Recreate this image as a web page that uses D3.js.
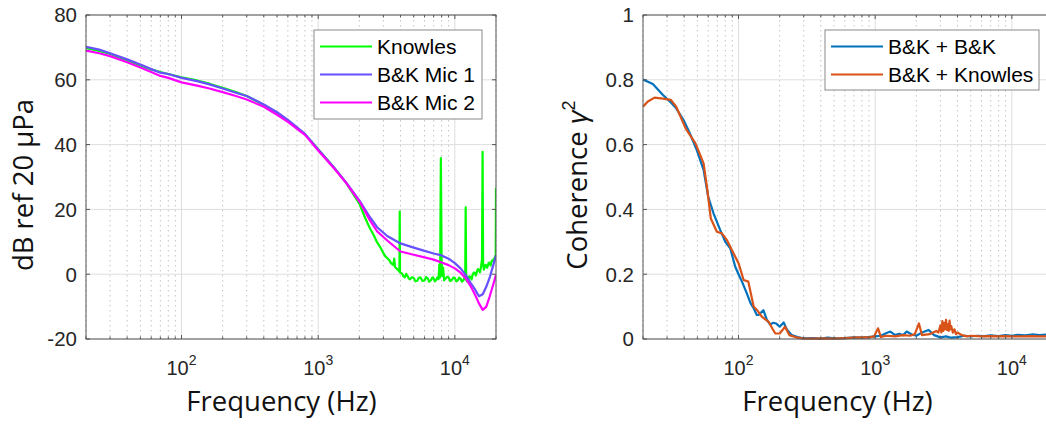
<!DOCTYPE html>
<html><head><meta charset="utf-8">
<script src="https://cdn.jsdelivr.net/npm/d3@7"></script>
<style>
html,body{margin:0;padding:0;background:#fff;}
svg{display:block;}
</style></head>
<body>
<svg id="chart" width="1046" height="425"></svg>
<script>
// ---------------- DATA ----------------
const micFreq = [20,25,30,40,50,60,70,80,100,130,160,200,250,300,400,500,600,800,1000,1300,1600,2000,2400,2700,3200,4000,5000,6000,7000,8000,9000,10000,11000,12000,13000,14000,15000,16000,17000,18000,19000,20000];
const mic1Db = [70.2,69.3,68.2,66.3,64.7,63.3,62.2,61.8,60.6,59.6,58.6,57.3,56.0,55.0,52.4,50.0,47.6,43.3,38.5,33.0,28.3,22.8,17.5,14.5,11.8,9.5,8.2,7.2,6.4,5.8,4.8,3.4,1.8,-0.2,-2.6,-4.6,-6.8,-6.2,-3.8,-1.0,2.5,5.8];
const mic2Db = [69.0,68.2,67.3,65.4,63.8,62.4,61.2,60.6,59.2,58.2,57.3,56.2,55.0,53.9,51.7,49.2,47.0,43.0,38.2,32.8,28.2,22.5,16.5,13.2,10.4,7.0,6.0,5.2,4.5,3.6,2.8,1.8,0.5,-1.3,-3.6,-6.2,-9.0,-11.0,-10.0,-6.8,-3.5,-0.2];
const knowFreq = [20,25,30,40,50,60,70,80,100,130,160,200,250,300,400,500,600,800,1000,1300,1600,2000,2200,2400,2550,2700,2850,3000,3100,3200,3300,3400,3550,3600,3650,3800,3930,3950,3970,4100,4200,4300,4400,4500,4600,4700,4850,5000,5150,5300,5450,5600,5800,6000,6150,6300,6500,6700,6850,7000,7150,7300,7450,7600,7700,7800,7900,8000,8100,8200,8350,8500,8750,9000,9250,9500,9750,10000,10250,10500,10750,11000,11250,11500,11700,11900,12000,12100,12300,12500,12750,13000,13250,13500,13750,14000,14250,14500,14750,15000,15250,15500,15800,15950,16100,16300,16500,16750,17000,17250,17500,17750,18000,18250,18500,18750,19000,19250,19500,19750,19900,20000];
const knowDb = [69.8,68.9,68.0,66.0,64.4,63.2,62.4,61.8,60.8,59.8,58.8,57.5,56.2,55.0,52.2,49.8,47.4,43.2,38.6,33.0,28.2,21.8,17.5,14.0,12.0,9.8,8.3,6.5,5.5,5.0,4.4,3.5,2.8,4.8,2.2,1.5,0.8,19.3,0.5,0.2,-0.6,-1.0,0.1,-0.5,-1.3,-1.6,-0.9,-1.2,-2.2,-2.0,-1.1,-1.0,-2.1,-1.9,-0.9,-1.2,-2.3,-1.8,-1.0,-1.3,-2.2,-1.8,-1.0,-1.5,3.0,-1.0,35.8,4.0,-0.5,2.0,-1.9,-1.5,-0.8,-1.0,-2.1,-1.8,-1.0,-1.2,-2.2,-1.9,-1.1,-1.4,-2.3,-2.0,-1.2,-1.6,20.6,-1.5,-2.3,-1.8,-0.7,-0.8,-1.6,-0.2,0.5,0.4,-0.4,0.8,1.6,1.2,0.6,2.0,4.5,37.8,3.0,1.4,2.0,2.9,2.6,2.0,3.0,3.6,3.2,2.7,3.8,4.2,4.5,3.9,5.0,5.5,6.0,26.7];

const bbFreq = [20,23.6,28,32,35,39.6,44,49.5,55.5,60,65.6,73.5,80,87,94.6,100,106,115,122,129,136,140,152,161,170,180,188,200,214,225,245,270,300,350,400,450,500,600,700,800,900,1000,1100,1200,1290,1400,1500,1600,1700,1850,2000,2200,2460,2700,3000,3300,3600,4000,4500,5000,5600,6300,7000,8000,9000,10000,11000,12500,14000,16000,18000,20000];
const bbCoh = [0.801,0.787,0.753,0.73,0.712,0.676,0.635,0.583,0.522,0.439,0.388,0.336,0.30,0.28,0.223,0.20,0.177,0.141,0.112,0.095,0.074,0.074,0.089,0.06,0.045,0.05,0.048,0.038,0.051,0.03,0.012,0.006,0.002,0.003,0.001,0.004,0.002,0.003,0.005,0.004,0.006,0.008,0.01,0.018,0.023,0.012,0.016,0.012,0.023,0.014,0.01,0.02,0.028,0.012,0.005,0.008,0.004,0.006,0.01,0.008,0.01,0.009,0.011,0.009,0.012,0.01,0.013,0.011,0.014,0.012,0.014,0.012];
const bkFreq = [20,21.7,24.3,28,32,35,41,48.4,55.5,58.7,62.7,69.4,75.5,82,92,100,109,118,129,138,148,166,178,186,200,212,219,235,260,290,350,400,500,600,700,800,900,980,1050,1100,1200,1400,1600,1800,1950,2090,2200,2500,2800,2900,3000,3050,3100,3150,3200,3250,3300,3350,3400,3450,3500,3550,3600,3700,3800,3900,4000,4300,4700,5000,6000,7000,8000,9000,10000,12000,14000,16000,18000,20000];
const bkCoh = [0.717,0.733,0.745,0.742,0.738,0.717,0.65,0.604,0.542,0.47,0.372,0.331,0.326,0.306,0.264,0.234,0.182,0.177,0.10,0.087,0.069,0.053,0.03,0.017,0.017,0.03,0.038,0.012,0.006,0.002,0.001,0.002,0.001,0.003,0.004,0.005,0.005,0.008,0.033,0.006,0.01,0.008,0.012,0.01,0.015,0.048,0.012,0.015,0.025,0.02,0.042,0.02,0.055,0.025,0.05,0.03,0.059,0.028,0.045,0.025,0.057,0.03,0.04,0.02,0.03,0.015,0.02,0.012,0.008,0.01,0.008,0.009,0.008,0.009,0.008,0.008,0.009,0.008,0.008,0.008];

const leftYTicks = [-20,0,20,40,60,80];
const rightYTicks = [0,0.2,0.4,0.6,0.8,1];
const rightYLabels = ["0","0.2","0.4","0.6","0.8","1"];
const xDecades = [100,1000,10000];
const xDecadeExp = ["2","3","4"];
const leftLegend = ["Knowles","B&K Mic 1","B&K Mic 2"];
const rightLegend = ["B&K + B&K","B&K + Knowles"];

// ---------------- DRAW ----------------
const svg = d3.select("#chart");
const TICKFONT = "'Liberation Sans', Arial, sans-serif";
const TITLEFONT = "'Open Sans', Lato, sans-serif";
const axisColor = "#262626";

const minorFreqs = [];
for (let d = 10; d <= 10000; d *= 10) for (let m = 2; m <= 9; m++) { const f = m*d; if (f >= 20 && f <= 20000) minorFreqs.push(f); }

function panel(opts) {
  const g = svg.append("g");
  const x = d3.scaleLog().domain([20,20000]).range([opts.x0, opts.x1]);
  const y = d3.scaleLinear().domain(opts.yDomain).range([339,15]);
  const [xa, xb] = x.range(), [yb, ya] = y.range();
  g.selectAll(".mg").data(minorFreqs).join("line")
    .attr("x1", d=>x(d)).attr("x2", d=>x(d)).attr("y1", ya).attr("y2", yb)
    .attr("stroke", "#c4c4c4").attr("stroke-width", 1).attr("stroke-dasharray", "1.5,3.5");
  g.selectAll(".Mg").data(xDecades).join("line")
    .attr("x1", d=>x(d)).attr("x2", d=>x(d)).attr("y1", ya).attr("y2", yb)
    .attr("stroke", "#dedede").attr("stroke-width", 1);
  g.selectAll(".Mgy").data(opts.yTicks).join("line")
    .attr("x1", xa).attr("x2", xb).attr("y1", d=>y(d)).attr("y2", d=>y(d))
    .attr("stroke", "#dedede").attr("stroke-width", 1);
  const clipId = "clip" + opts.id;
  svg.append("clipPath").attr("id", clipId).append("rect")
    .attr("x", xa).attr("y", ya - 2).attr("width", xb - xa).attr("height", yb - ya + 4);
  const lg = g.append("g").attr("clip-path", `url(#${clipId})`);
  opts.series.forEach(s => {
    const line = d3.line().x((d,i)=>x(s.f[i])).y(d=>y(d));
    lg.append("path").datum(s.v).attr("d", line).attr("fill","none")
      .attr("stroke", s.color).attr("stroke-width", 2.2).attr("stroke-linejoin","round");
  });
  g.append("rect").attr("x", xa).attr("y", ya).attr("width", xb - xa).attr("height", yb - ya)
    .attr("fill","none").attr("stroke", "#555").attr("stroke-width", 1);
  g.selectAll(".yt").data(opts.yTicks).join("line")
    .attr("x1", xa).attr("x2", xa + 4).attr("y1", d=>y(d)).attr("y2", d=>y(d)).attr("stroke","#555");
  g.selectAll(".yt2").data(opts.yTicks).join("line")
    .attr("x1", xb).attr("x2", xb - 4).attr("y1", d=>y(d)).attr("y2", d=>y(d)).attr("stroke","#555");
  g.selectAll(".xt").data(xDecades).join("line")
    .attr("x1", d=>x(d)).attr("x2", d=>x(d)).attr("y1", yb).attr("y2", yb - 4).attr("stroke","#555");
  g.selectAll(".xtt").data(xDecades).join("line")
    .attr("x1", d=>x(d)).attr("x2", d=>x(d)).attr("y1", ya).attr("y2", ya + 4).attr("stroke","#555");
  g.selectAll(".xm").data(minorFreqs).join("line")
    .attr("x1", d=>x(d)).attr("x2", d=>x(d)).attr("y1", yb).attr("y2", yb - 2.5).attr("stroke","#555");
  g.selectAll(".xmt").data(minorFreqs).join("line")
    .attr("x1", d=>x(d)).attr("x2", d=>x(d)).attr("y1", ya).attr("y2", ya + 2.5).attr("stroke","#555");
  g.selectAll(".yl").data(opts.yTicks).join("text")
    .attr("x", xa - 9).attr("y", d=>y(d)).attr("dy", "0.36em")
    .attr("text-anchor","end").attr("font-family", TICKFONT).attr("font-size", 20.5)
    .attr("fill", axisColor).text((d,i)=>opts.yLabels[i]);
  const xl = g.selectAll(".xl").data(xDecades).join("text")
    .attr("x", d=>x(d)).attr("y", 375).attr("text-anchor","middle")
    .attr("font-family", TICKFONT).attr("font-size", 20).attr("fill", axisColor);
  xl.append("tspan").text("10");
  xl.append("tspan").attr("dy", -10).attr("font-size", 14).text((d,i)=>xDecadeExp[i]);
  g.append("text").attr("x", opts.xTitleX).attr("y", 411).attr("text-anchor","middle")
    .attr("font-family", TITLEFONT).attr("font-size", 27.5).attr("fill", "#111").text("Frequency (Hz)");
  const yt = g.append("text").attr("transform", `translate(${opts.yTitleX},185) rotate(-90)`)
    .attr("text-anchor","middle").attr("font-family", TITLEFONT).attr("font-size", 27.5).attr("fill", "#111");
  opts.yTitle(yt);
  const L = opts.legend;
  const lgG = g.append("g");
  lgG.append("rect").attr("x", L.x).attr("y", L.y).attr("width", L.w).attr("height", L.h)
    .attr("fill","#fff").attr("stroke","#8a8a8a").attr("stroke-width",1);
  L.items.forEach((name, i) => {
    const yy = L.y + L.first + i * L.step;
    lgG.append("line").attr("x1", L.x + 6).attr("x2", L.x + 58).attr("y1", yy).attr("y2", yy)
      .attr("stroke", opts.series[i].color).attr("stroke-width", 2.2);
    lgG.append("text").attr("x", L.x + 63).attr("y", yy).attr("dy","0.36em")
      .attr("font-family", TICKFONT).attr("font-size", 21).attr("fill","#000").text(name);
  });
}

panel({
  id: "L", x0: 86, x1: 496, yDomain: [-20,80], yTicks: leftYTicks,
  yLabels: leftYTicks.map(String),
  series: [
    {f: knowFreq, v: knowDb, color: "#00ff00"},
    {f: micFreq, v: mic1Db, color: "#6650ff"},
    {f: micFreq, v: mic2Db, color: "#ff00ff"}
  ],
  xTitleX: 281.5, yTitleX: 33,
  yTitle: t => t.text("dB ref 20 μPa"),
  legend: {x: 314, y: 30, w: 168, h: 89, first: 16.5, step: 28, items: leftLegend}
});

panel({
  id: "R", x0: 643, x1: 1053, yDomain: [0,1], yTicks: rightYTicks,
  yLabels: rightYLabels,
  series: [
    {f: bbFreq, v: bbCoh, color: "#0072BD"},
    {f: bkFreq, v: bkCoh, color: "#D95319"}
  ],
  xTitleX: 837.5, yTitleX: 587,
  yTitle: t => {
    t.append("tspan").text("Coherence ");
    t.append("tspan").attr("font-style","italic").attr("font-family", TICKFONT).text("γ");
    t.append("tspan").attr("dy", -12).attr("font-size", 18).attr("font-family", TICKFONT).text("2");
  },
  legend: {x: 825, y: 30, w: 214, h: 60, first: 16.5, step: 28, items: rightLegend}
});
</script>
</body></html>
